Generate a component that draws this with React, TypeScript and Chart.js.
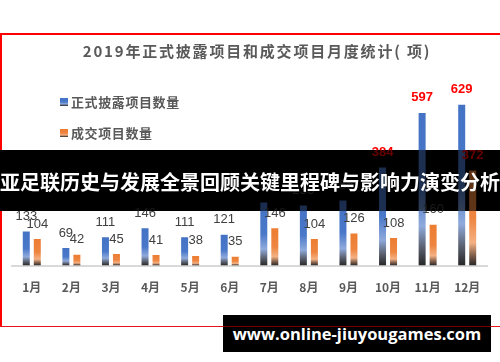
import React, { useEffect, useRef } from "react";
import { Chart, registerables } from "chart.js";

Chart.register(...registerables);

const months = ["1月", "2月", "3月", "4月", "5月", "6月", "7月", "8月", "9月", "10月", "11月", "12月"];
const disclosed = [133, 69, 111, 146, 111, 121, 247, 235, 255, 384, 597, 629];
const traded = [104, 42, 45, 41, 38, 35, 146, 104, 126, 108, 160, 372];
const seriesNames = ["正式披露项目数量", "成交项目数量"];
const titleText = "2019年正式披露项目和成交项目月度统计( 项)";
const bannerText = "亚足联历史与发展全景回顾关键里程碑与影响力演变分析";
const watermarkText = "www.online-jiuyougames.com";
const yMax = 800;
const redThreshold = 300;

const blueStops: [number, string][] = [
  [0, "#4472C4"],
  [0.5, "#4A78C9"],
  [0.74, "#8FAADC"],
  [0.88, "#5B6170"],
  [1, "#262626"],
];
const orangeStops: [number, string][] = [
  [0, "#ED7D31"],
  [0.5, "#EE8540"],
  [0.76, "#F4B183"],
  [0.9, "#7A5A48"],
  [1, "#262626"],
];

function makeGradientFn(stops: [number, string][], solid: string) {
  return (ctx: any) => {
    const chart = ctx.chart;
    if (!chart.chartArea || ctx.raw == null) return solid;
    const y = chart.scales.y;
    const top = y.getPixelForValue(ctx.raw);
    const base = y.getPixelForValue(0);
    if (!isFinite(top) || !isFinite(base) || base - top < 1) return solid;
    const g = chart.ctx.createLinearGradient(0, top, 0, base);
    stops.forEach(([o, c]) => g.addColorStop(o, c));
    return g;
  };
}

const cssGrad = (stops: [number, string][]) =>
  `linear-gradient(to bottom, ${stops.map(([o, c]) => `${c} ${o * 100}%`).join(", ")})`;

export default function App() {
  const canvasRef = useRef<HTMLCanvasElement>(null);
  const bannerRef = useRef<HTMLCanvasElement>(null);

  useEffect(() => {
    if (!canvasRef.current) return;
    const labelPlugin = {
      id: "barLabels",
      afterDatasetsDraw(chart: any) {
        const c = chart.ctx;
        c.save();
        c.textAlign = "center";
        c.textBaseline = "middle";
        chart.data.datasets.forEach((ds: any, di: number) => {
          const meta = chart.getDatasetMeta(di);
          meta.data.forEach((bar: any, i: number) => {
            const v = ds.data[i];
            const red = v > redThreshold;
            c.fillStyle = red ? "#FF0000" : "#404040";
            c.font = red ? "bold 13px 'Liberation Sans', Arial, sans-serif" : "13px 'Liberation Sans', Arial, sans-serif";
            c.fillText(String(v), bar.x, bar.y - 15);
          });
        });
        c.restore();
      },
    };
    const bannerPlugin = {
      id: "bannerCopy",
      afterRender(chart: any) {
        const b = bannerRef.current;
        if (!b) return;
        const bc = b.getContext("2d");
        if (!bc) return;
        bc.globalAlpha = 1;
        bc.fillStyle = "#000";
        bc.fillRect(0, 0, b.width, b.height);
        bc.globalAlpha = 0.4;
        bc.drawImage(chart.canvas, 0, 150, 500, 61, 0, 0, 500, 61);
        bc.globalAlpha = 1;
      },
    };
    const chart = new Chart(canvasRef.current, {
      type: "bar",
      data: {
        labels: months,
        datasets: [
          {
            label: seriesNames[0],
            data: disclosed,
            backgroundColor: makeGradientFn(blueStops, "#4472C4"),
            categoryPercentage: 0.556,
            barPercentage: 0.636,
          },
          {
            label: seriesNames[1],
            data: traded,
            backgroundColor: makeGradientFn(orangeStops, "#ED7D31"),
            categoryPercentage: 0.556,
            barPercentage: 0.636,
          },
        ],
      },
      options: {
        responsive: false,
        animation: false,
        layout: { padding: { left: 12, right: 13, top: 61, bottom: 52 } },
        plugins: {
          legend: { display: false },
          title: { display: false },
          tooltip: { enabled: false },
        },
        scales: {
          x: {
            grid: { display: false, drawTicks: false },
            border: { display: true, color: "#d9d9d9", width: 2 },
            ticks: {
              color: "#595959",
              padding: 15,
              font: { size: 12, weight: "bold", family: "'Noto Sans CJK SC', 'DejaVu Sans', sans-serif" },
            },
          },
          y: { display: false, min: 0, max: yMax },
        },
      },
      plugins: [labelPlugin, bannerPlugin],
    } as any);
    return () => chart.destroy();
  }, []);

  const legendItem = (top: number, stops: [number, string][], text: string) => (
    <div style={{ position: "absolute", left: 60, top: top - 9, height: 18, display: "flex", alignItems: "center" }}>
      <div style={{ width: 8, height: 8, background: cssGrad(stops), marginRight: 3 }} />
      <span
        style={{
          fontFamily: "'Noto Sans CJK SC', sans-serif",
          fontWeight: "bold",
          fontSize: 13,
          letterSpacing: 0.6,
          color: "#595959",
          lineHeight: "18px",
        }}
      >
        {text}
      </span>
    </div>
  );

  return (
    <div style={{ position: "fixed", left: 0, top: 0, width: 500, height: 362, background: "#fff", overflow: "hidden" }}>
      <canvas ref={canvasRef} width={500} height={362} style={{ position: "absolute", left: 0, top: 0, width: 500, height: 362 }} />
      {/* red frame */}
      <div style={{ position: "absolute", left: 0, top: 33, width: 500, height: 2, background: "#FF0000" }} />
      <div style={{ position: "absolute", left: 0, top: 33, width: 2, height: 294, background: "#FF0000" }} />
      <div style={{ position: "absolute", left: 0, top: 326, width: 500, height: 1, background: "#E8141A" }} />
      {/* title */}
      <div
        style={{
          position: "absolute",
          left: 7,
          top: 41,
          width: 500,
          textAlign: "center",
          fontFamily: "'Noto Sans CJK SC', sans-serif",
          fontWeight: "bold",
          fontSize: 15,
          letterSpacing: 1.8,
          color: "#595959",
          lineHeight: "20px",
          whiteSpace: "nowrap",
        }}
      >
        {titleText}
      </div>
      {legendItem(102, blueStops, seriesNames[0])}
      {legendItem(133, orangeStops, seriesNames[1])}
      {/* banner */}
      <div style={{ position: "absolute", left: 0, top: 150, width: 500, height: 61 }}>
        <canvas ref={bannerRef} width={500} height={61} style={{ position: "absolute", left: 0, top: 0, width: 500, height: 61 }} />
        <div
          style={{
            position: "absolute",
            left: 0,
            top: 0,
            width: 500,
            height: 61,
            lineHeight: "61px",
            textAlign: "center",
            color: "#fff",
            fontFamily: "'Noto Sans CJK SC', sans-serif",
            fontWeight: "bold",
            fontSize: 20,
            whiteSpace: "nowrap",
            paddingTop: 1,
          }}
        >
          {bannerText}
        </div>
      </div>
      {/* watermark */}
      <div style={{ position: "absolute", left: 223, top: 315, width: 268, height: 37, background: "#000" }}>
        <div style={{ position: "absolute", left: 0, top: 11, width: 268, height: 1, background: "rgba(200,0,0,0.6)" }} />
        <div
          style={{
            position: "absolute",
            left: 0,
            top: 0,
            width: 268,
            height: 37,
            lineHeight: "37px",
            textAlign: "center",
            color: "#fff",
            fontFamily: "'Open Sans', sans-serif",
            fontWeight: "bold",
            fontSize: 16.5,
            whiteSpace: "nowrap",
          }}
        >
          {watermarkText}
        </div>
      </div>
    </div>
  );
}
